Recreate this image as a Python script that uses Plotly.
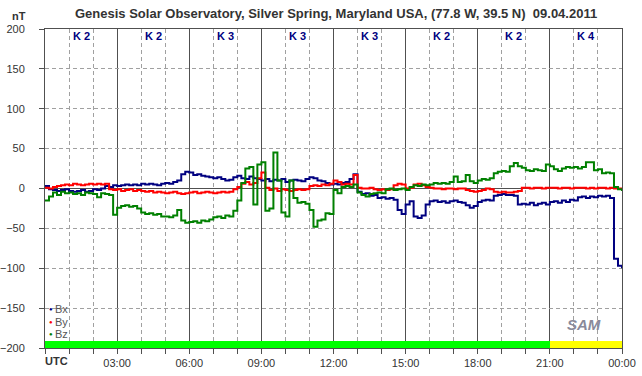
import plotly.graph_objects as go

# ---------------- data ----------------
# 10-minute samples, 00:00 .. 24:00 UTC (hours)
hours = [i / 6 for i in range(145)]

bx = [3, -1, -2, -3, -2, -1, -3, -4, -3, -2, -4, -3, -1, -2, 0, 3, 2, 4, 3, 4,
      5, 4, 5, 4, 6, 5, 6, 5, 4, 6, 7, 6, 8, 10, 18, 21, 20, 17, 18, 16,
      15, 14, 13, 14, 12, 10, 11, 14, 16, 13, 12, 15, 13, 12, 10, 12, 9, 11, 10, 12,
      8, 10, 11, 10, 9, 12, 14, 13, 10, 9, 7, 5, 6, 5, 7, 8, 12, 18, -4, -7,
      -6, -9, -8, -12, -11, -13, -12, -14, -27, -32, -20, -16, -35, -37, -34, -20, -16, -15, -17, -16,
      -18, -16, -15, -17, -18, -21, -24, -22, -17, -15, -14, -15, -9, -8, -7, -8, -8, -9, -20, -19,
      -20, -18, -21, -19, -18, -20, -17, -16, -18, -15, -17, -14, -15, -11, -10, -12, -10, -11, -9, -10,
      -9, -12, -88, -97, -100]

by = [1, 0, 2, 3, 4, 5, 4, 6, 5, 4, 5, 6, 5, 6, 5, 6, -1, -2, -1, -3,
      -2, -1, -3, -2, -3, -4, -3, -5, -4, -5, -6, -5, -4, -6, -7, -6, -5, -4, -6, -5,
      -4, -5, -6, -5, -4, -5, -4, -1, 2, 6, 8, 5, 7, 13, 20, 1, -2, 0, -3, -1,
      -2, -3, -2, -1, -2, -1, 3, 4, 3, 5, 4, 6, 10, 8, 5, 6, 5, 17, 1, 0,
      0, 1, -1, -2, -1, -2, -1, 4, 6, 5, 0, 1, 5, 6, 4, 2, 1, 0, 0, -1,
      0, 0, -1, 0, 0, -2, -3, -4, -3, -2, 0, -1, -4, -5, -4, -5, -5, -4, -3, 1,
      1, 0, 1, 1, 0, 1, 1, 1, 0, 1, 1, 0, 1, 1, 1, 0, 1, 0, 1, 1,
      0, 1, 0, 0, 0]

bz = [-15, -10, -5, -8, -4, -6, -5, -7, -6, -8, -5, -6, -7, -11, -6, -7, -8, -33, -24, -22,
      -21, -23, -22, -25, -30, -32, -31, -33, -32, -35, -35, -36, -34, -27, -40, -43, -42, -41, -43, -40,
      -41, -39, -36, -35, -37, -34, -35, -28, -15, 7, 25, 27, -20, 30, 33, -28, -25, 45, 10, -30,
      -35, 10, -12, -18, -17, -19, -27, -48, -40, -39, -31, -32, -2, -6, 2, 3, 2, 5, -5, -8,
      -10, -7, -6, -5, -6, -1, 0, -2, -1, 0, -2, 2, 4, 3, 5, 4, 5, 7, 6, 7,
      6, 8, 15, 8, 9, 17, 9, 7, 10, 12, 11, 13, 19, 21, 22, 21, 28, 32, 28, 26,
      23, 22, 24, 23, 22, 30, 28, 24, 22, 25, 27, 26, 27, 25, 27, 33, 33, 23, 24, 19,
      20, 19, 2, -1, -3]

k_index = [2, 2, 3, 3, 3, 2, 2, 4]
k_centers = [1.5, 4.5, 7.5, 10.5, 13.5, 16.5, 19.5, 22.5]

x_tickvals = [0, 3, 6, 9, 12, 15, 18, 21, 24]
x_ticktext = ["", "03:00", "06:00", "09:00", "12:00", "15:00", "18:00", "21:00", "00:00"]

series_names = ["Bx", "By", "Bz"]
series_colors = ["#000080", "#FF0000", "#008000"]

title_text = "Genesis Solar Observatory, Silver Spring, Maryland USA, (77.8 W, 39.5 N)  09.04.2011"

# ---------------- figure ----------------
FONT = "Arial, 'Liberation Sans', sans-serif"
fig = go.Figure()

# activity status bar along the bottom
fig.add_trace(go.Bar(
    x=k_centers, y=[9] * len(k_index), base=-200, width=3,
    marker=dict(color=["#FFFF00" if k >= 4 else "#00FF00" for k in k_index], line=dict(width=0)),
    showlegend=False, hoverinfo="skip"))

for name, vals, col in zip(series_names, [bx, by, bz], series_colors):
    fig.add_trace(go.Scatter(x=hours, y=vals, mode="lines", name=name,
                             line=dict(color=col, width=2, shape="hv"), showlegend=False))

annotations = []
for kc, k in zip(k_centers, k_index):
    annotations.append(dict(x=kc, y=191, xref="x", yref="y", text=f"<b>K {k}</b>",
                            showarrow=False, font=dict(family=FONT, size=11, color="#000080"),
                            xanchor="center", yanchor="middle"))

annotations.append(dict(x=0.5035, y=1.05, xref="paper", yref="paper", text=f"<b>{title_text}</b>",
                        showarrow=False, font=dict(family=FONT, size=13, color="#333333"),
                        xanchor="center", yanchor="middle"))
annotations.append(dict(x=-0.045, y=1.041, xref="paper", yref="paper", text="<b>nT</b>",
                        showarrow=False, font=dict(family=FONT, size=11, color="#333333"),
                        xanchor="center", yanchor="middle"))
annotations.append(dict(x=0, y=-0.041, xref="paper", yref="paper", text="<b>UTC</b>",
                        showarrow=False, font=dict(family=FONT, size=11, color="#333333"),
                        xanchor="left", yanchor="middle", xshift=-2))

legend_y = [-151, -167, -183]
for name, col, ly in zip(series_names, series_colors, legend_y):
    annotations.append(dict(x=0.0104, y=ly, xref="paper", yref="y", text="●",
                            showarrow=False, font=dict(family=FONT, size=6, color=col),
                            xanchor="center", yanchor="middle"))
    annotations.append(dict(x=0.0155, y=ly, xref="paper", yref="y", text=name,
                            showarrow=False, font=dict(family=FONT, size=11, color="#555555"),
                            xanchor="left", yanchor="middle", borderpad=0))

annotations.append(dict(x=0.935, y=-170, xref="paper", yref="y", text="<i><b>SAM</b></i>",
                        showarrow=False, font=dict(family=FONT, size=15, color="#8a8a9a"),
                        xanchor="center", yanchor="middle"))

fig.update_layout(
    width=642, height=376,
    margin=dict(l=45, r=20, t=29, b=28, autoexpand=False),
    paper_bgcolor="white", plot_bgcolor="white",
    font=dict(family=FONT, size=11, color="#333333"),
    bargap=0,
    annotations=annotations,
    xaxis=dict(range=[0, 24], tickmode="array", tickvals=x_tickvals, ticktext=x_ticktext,
               automargin=False,
               showgrid=True, gridcolor="#505050", gridwidth=1,
               ticks="outside", ticklen=5, tickcolor="#505050",
               showline=True, linecolor="#505050", linewidth=1, mirror=True, zeroline=False,
               tickfont=dict(size=11, color="#333333"),
               minor=dict(tickmode="linear", tick0=0, dtick=1, showgrid=True, gridcolor="#a0a0a0",
                          griddash="4px,3px", ticks="outside", ticklen=5, tickcolor="#505050")),
    yaxis=dict(range=[-200, 200], tickmode="linear", tick0=-200, dtick=50,
               automargin=False,
               showgrid=True, gridcolor="#a0a0a0", griddash="4px,3px",
               zeroline=True, zerolinecolor="#505050", zerolinewidth=1,
               ticks="outside", ticklen=5, tickcolor="#505050",
               showline=True, linecolor="#505050", linewidth=1, mirror=True,
               tickfont=dict(size=11, color="#333333"), ticklabelstandoff=12),
)

fig.write_html("out.html", config={"displayModeBar": False},
               post_script="document.body.style.margin='0px';document.body.style.overflow='hidden';")
